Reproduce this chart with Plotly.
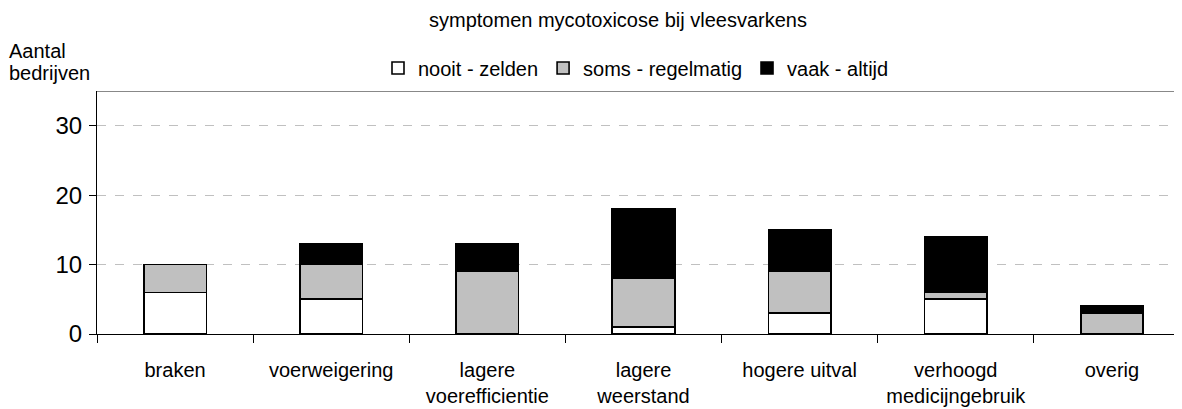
import plotly.graph_objects as go

categories = ["braken", "voerweigering", "lagere<br>voerefficientie", "lagere<br>weerstand",
              "hogere uitval", "verhoogd<br>medicijngebruik", "overig"]
nooit_zelden = [6, 5, 0, 1, 3, 5, 0]
soms_regelmatig = [4, 5, 9, 7, 6, 1, 3]
vaak_altijd = [0, 3, 4, 10, 6, 8, 1]
series_names = ["nooit - zelden", "soms - regelmatig", "vaak - altijd"]
series_colors = ["#ffffff", "#c0c0c0", "#000000"]
y_ticks = [0, 10, 20, 30]

FONT = "Liberation Sans, Arial, sans-serif"
W, H = 1182, 409
OFF = 8  # page body margin offset

fig = go.Figure()
for name, vals, col in zip(series_names, [nooit_zelden, soms_regelmatig, vaak_altijd], series_colors):
    fig.add_trace(go.Bar(
        x=categories, y=vals, name=name,
        marker=dict(color=col, line=dict(color="#000000", width=1.6)),
    ))

fig.update_layout(
    width=W, height=H,
    barmode="stack", bargap=0.6,
    paper_bgcolor="white", plot_bgcolor="white",
    margin=dict(l=97 - OFF, r=0, t=90.5 - OFF, b=H - (334 - OFF)),
    font=dict(family=FONT, color="#000000"),
    title=dict(text="symptomen mycotoxicose bij vleesvarkens", x=(618 - OFF) / W, xanchor="center",
               y=1 - (20 - OFF) / H, yanchor="middle", font=dict(size=20, family=FONT)),
    legend=dict(orientation="h", xref="container", x=(636 - OFF) / W, xanchor="center",
                yref="container", y=1 - (68 - OFF) / H,
                yanchor="middle", traceorder="normal", font=dict(size=20, family=FONT),
                itemwidth=30),
    showlegend=True,
)
fig.update_xaxes(
    range=[-0.5, 6.5], showline=True, linecolor="#000000", linewidth=1,
    ticks="outside", tickson="boundaries", ticklen=8, tickcolor="#000000",
    ticklabelstandoff=18,
    tickfont=dict(size=20, family=FONT), showgrid=False,
)
fig.update_yaxes(
    range=[0, 35], tickvals=y_ticks, showline=True, linecolor="#000000", linewidth=1,
    ticks="outside", ticklen=7, tickcolor="#000000", ticklabelstandoff=2,
    tickfont=dict(size=24, family=FONT),
    showgrid=True, gridcolor="#c0c0c0", griddash="dash", gridwidth=1, zeroline=False,
)
fig.add_shape(type="line", xref="paper", yref="y", x0=0, x1=1, y0=35, y1=35,
              line=dict(color="#888888", width=2))
fig.add_annotation(text="Aantal", xref="paper", yref="paper", x=0, y=1,
                   xshift=-90, yshift=90.5 - 50, xanchor="left", yanchor="middle",
                   showarrow=False, font=dict(size=20, family=FONT))
fig.add_annotation(text="bedrijven", xref="paper", yref="paper", x=0, y=1,
                   xshift=-90, yshift=90.5 - 72, xanchor="left", yanchor="middle",
                   showarrow=False, font=dict(size=20, family=FONT))

fig.write_html("out.html")
